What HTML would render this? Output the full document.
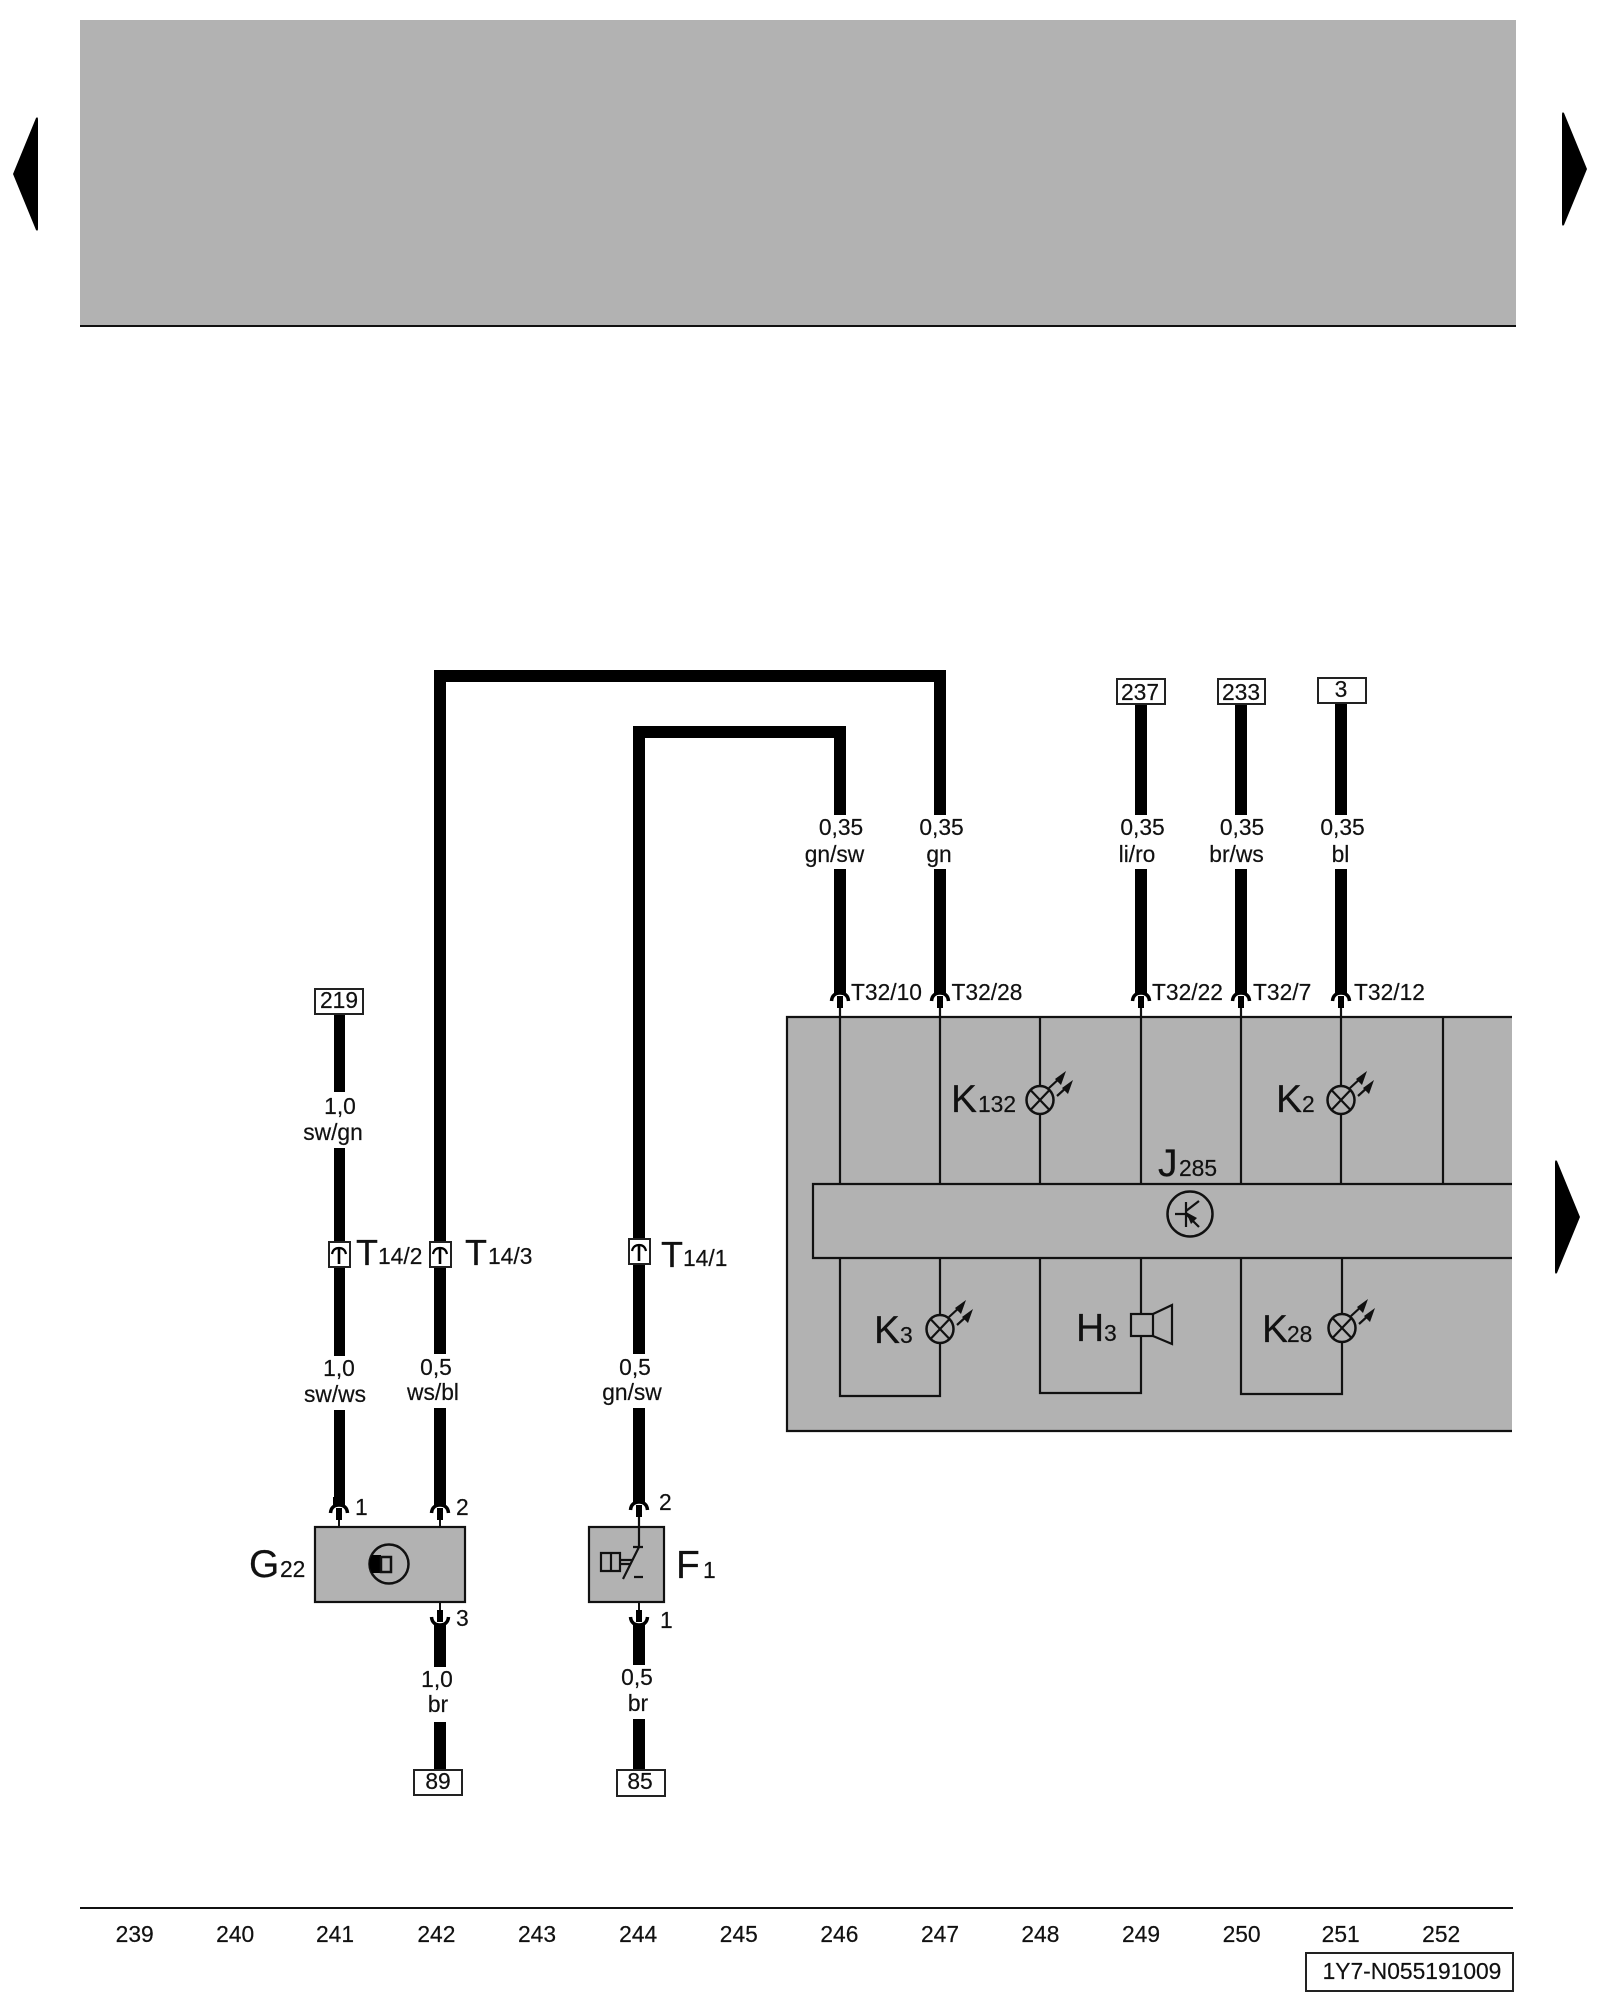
<!DOCTYPE html>
<html><head><meta charset="utf-8"><style>
html,body{margin:0;padding:0;background:#fff}
svg{display:block}
text{font-family:"Liberation Sans",Arial,sans-serif;fill:#111;font-size:22.8px;stroke:#111;stroke-width:.2}
.m{text-anchor:middle}
.b{font-size:39px}
.l{stroke:#111;stroke-width:2.2;fill:none}
.w{fill:#000}
</style></head><body>
<svg width="1600" height="2000" viewBox="0 0 1600 2000" xmlns="http://www.w3.org/2000/svg">
<defs>
<g id="up"><path d="M-8.5 8C-8 2-4 0 0 0 4 0 8 2 8.5 8" fill="none" stroke="#000" stroke-width="3.5"/><rect x="-6" y="-8" width="12" height="8" fill="#000"/><rect x="-3" y="3" width="6" height="12" fill="#000"/><path d="M0 15V23" stroke="#111" stroke-width="2"/></g>
<g id="dn"><path d="M-8.5-8C-8-2-4 0 0 0 4 0 8-2 8.5-8" fill="none" stroke="#000" stroke-width="3.5"/><rect x="-6" y="0" width="12" height="8" fill="#000"/><rect x="-3" y="-15" width="6" height="12" fill="#000"/><path d="M0-15V-23" stroke="#111" stroke-width="2"/></g>
<g id="lamp"><ellipse rx="13.5" ry="14" fill="#b2b2b2" stroke="#111" stroke-width="2.5"/><path d="M-9.5-10 9.5 10M9.5-10-9.5 10" stroke="#111" stroke-width="2.2"/><path d="M9-12 21-23M17-4 28-14" stroke="#111" stroke-width="2.2"/><path d="M26-29 15-21 21-15ZM33-20 22-12 28-6Z" fill="#111"/></g>
<g id="conn"><rect x="-10" y="0" width="21" height="25" fill="#fff" stroke="#222" stroke-width="2"/><path d="M-7 12C-6 7-3 6 0 6 3 6 6 7 7 12" fill="none" stroke="#000" stroke-width="2.2"/><path d="M0 7V22" stroke="#000" stroke-width="2.6"/></g>
</defs>

<rect x="80" y="20" width="1436" height="306" fill="#b2b2b2"/>
<rect x="80" y="325" width="1436" height="2" fill="#111"/>
<path d="M13 174 36 118Q38 116 38 120V228Q38 232 36 230Z" fill="#000"/>
<path d="M1587 169 1564 113Q1562 111 1562 115V223Q1562 227 1564 225Z" fill="#000"/>
<path d="M1580 1217 1557 1161Q1555 1159 1555 1163V1271Q1555 1275 1557 1273Z" fill="#000"/>

<!-- control unit -->
<rect x="787" y="1017" width="725" height="414" fill="#b2b2b2"/>
<path class="l" d="M1512 1017H787V1431H1512"/>
<path class="l" d="M840 1005V1183M940 1005V1183M1040 1017V1183M1141 1005V1183M1241 1005V1183M1341 1005V1183M1443 1017V1183"/>
<path class="l" d="M1512 1184H813V1258H1512"/>
<path class="l" d="M840 1258V1396H940V1258M1040 1258V1393H1141V1258M1241 1258V1394H1342V1258"/>

<!-- wires -->
<path d="M440 1354V676H940V815" fill="none" stroke="#000" stroke-width="12"/>
<path d="M639 1354V732H840V815" fill="none" stroke="#000" stroke-width="12"/>
<rect class="w" x="334" y="1014" width="11" height="78"/>
<rect class="w" x="334" y="1148" width="11" height="94"/>
<rect class="w" x="334" y="1267" width="11" height="89"/>
<rect class="w" x="334" y="1410" width="11" height="95"/>
<rect class="w" x="434" y="1408" width="12" height="97"/>
<rect class="w" x="633" y="1408" width="12" height="93"/>
<rect class="w" x="434" y="1624" width="12" height="43"/>
<rect class="w" x="434" y="1722" width="12" height="48"/>
<rect class="w" x="633" y="1624" width="12" height="41"/>
<rect class="w" x="633" y="1719" width="12" height="51"/>
<rect class="w" x="834" y="869" width="12" height="124"/>
<rect class="w" x="934" y="869" width="12" height="124"/>
<rect class="w" x="1135" y="704" width="12" height="111"/>
<rect class="w" x="1135" y="869" width="12" height="124"/>
<rect class="w" x="1235" y="704" width="12" height="111"/>
<rect class="w" x="1235" y="869" width="12" height="124"/>
<rect class="w" x="1335" y="703" width="12" height="112"/>
<rect class="w" x="1335" y="869" width="12" height="124"/>

<use href="#up" x="840" y="993"/><use href="#up" x="940" y="993"/><use href="#up" x="1141" y="993"/><use href="#up" x="1241" y="993"/><use href="#up" x="1341" y="993"/>
<use href="#up" x="339" y="1505"/><use href="#up" x="440" y="1505"/><use href="#up" x="639" y="1502"/>
<use href="#dn" x="440" y="1625"/><use href="#dn" x="639" y="1625"/>
<use href="#conn" x="339" y="1242"/><use href="#conn" x="440" y="1242"/><use href="#conn" x="639" y="1239"/>

<!-- terminal boxes -->
<g fill="#fff" stroke="#222" stroke-width="2">
<rect x="315" y="989" width="48" height="25"/>
<rect x="1117" y="679" width="48" height="25"/>
<rect x="1218" y="679" width="47" height="25"/>
<rect x="1318" y="678" width="48" height="25"/>
<rect x="414" y="1770" width="48" height="25"/>
<rect x="617" y="1770" width="48" height="26"/>
<rect x="1306" y="1953" width="207" height="38"/>
</g>
<text class="m" x="339" y="1008">219</text>
<text class="m" x="1140" y="700">237</text>
<text class="m" x="1241" y="700">233</text>
<text class="m" x="1341" y="697">3</text>
<text class="m" x="438" y="1789">89</text>
<text class="m" x="640" y="1789">85</text>

<!-- wire labels -->
<text class="m" x="340" y="1114">1,0</text><text class="m" x="333" y="1140">sw/gn</text>
<text class="m" x="339" y="1376">1,0</text><text class="m" x="335" y="1402">sw/ws</text>
<text class="m" x="436" y="1375">0,5</text><text class="m" x="433" y="1400">ws/bl</text>
<text class="m" x="635" y="1375">0,5</text><text class="m" x="632" y="1400">gn/sw</text>
<text class="m" x="437" y="1687">1,0</text><text class="m" x="438" y="1712">br</text>
<text class="m" x="637" y="1685">0,5</text><text class="m" x="638" y="1711">br</text>
<text class="m" x="841" y="835">0,35</text><text class="m" x="834.5" y="862">gn/sw</text>
<text class="m" x="941.5" y="835">0,35</text><text class="m" x="939" y="862">gn</text>
<text class="m" x="1142.5" y="835">0,35</text><text class="m" x="1137" y="862">li/ro</text>
<text class="m" x="1242" y="835">0,35</text><text class="m" x="1236.5" y="862">br/ws</text>
<text class="m" x="1342.5" y="835">0,35</text><text class="m" x="1340.5" y="862">bl</text>

<text x="851" y="1000">T32/10</text>
<text x="951.5" y="1000">T32/28</text>
<text x="1152" y="1000">T32/22</text>
<text x="1253" y="1000">T32/7</text>
<text x="1354" y="1000">T32/12</text>

<text x="356" y="1265" class="b" style="font-size:36px">T</text><text x="378" y="1264">14/2</text>
<text x="465" y="1265" class="b" style="font-size:36px">T</text><text x="488" y="1264">14/3</text>
<text x="661" y="1267" class="b" style="font-size:36px">T</text><text x="683" y="1266">14/1</text>

<text x="355" y="1515">1</text><text x="456" y="1515">2</text><text x="659" y="1510">2</text>
<text x="456" y="1626">3</text><text x="660" y="1628">1</text>

<!-- G22 -->
<rect x="315" y="1527" width="150" height="75" fill="#b2b2b2" stroke="#111" stroke-width="2.2"/>
<circle cx="389" cy="1564" r="19.5" fill="none" stroke="#111" stroke-width="2.5"/>
<path d="M381 1555H372Q367 1564 372 1573H381Z" fill="#000"/>
<rect x="381" y="1557" width="10" height="15" fill="#b2b2b2" stroke="#111" stroke-width="2.5"/>
<text class="b" x="249" y="1577">G</text><text x="280" y="1577">22</text>

<!-- F1 -->
<rect x="589" y="1527" width="75" height="75" fill="#b2b2b2" stroke="#111" stroke-width="2.2"/>
<path class="l" d="M639 1517V1547M633 1547H643M639 1547 623 1579M634 1577H643M601 1553H620V1571H601ZM611 1553V1571M620 1560H632M620 1564H630"/>
<text class="b" x="676" y="1578">F</text><text x="703" y="1578">1</text>

<!-- indicators -->
<use href="#lamp" x="1040" y="1100"/><use href="#lamp" x="1341" y="1100"/><use href="#lamp" x="940" y="1329"/><use href="#lamp" x="1342" y="1328"/>
<text class="b" x="951" y="1112">K</text><text x="978" y="1112">132</text>
<text class="b" x="1276" y="1112">K</text><text x="1302" y="1112">2</text>
<text class="b" x="874" y="1343">K</text><text x="900" y="1343">3</text>
<text class="b" x="1076" y="1341">H</text><text x="1104" y="1341">3</text>
<text class="b" x="1262" y="1342">K</text><text x="1287" y="1342">28</text>

<!-- speaker -->
<rect x="1131" y="1314" width="22" height="22" fill="#b2b2b2" stroke="#111" stroke-width="2.2"/>
<path class="l" d="M1153 1314 1172 1305V1344L1153 1336"/>

<!-- J285 -->
<text class="b" x="1158" y="1176">J</text><text x="1179" y="1176">285</text>
<circle cx="1190" cy="1214" r="22.5" fill="none" stroke="#111" stroke-width="2.5"/>
<path class="l" d="M1186 1202V1227M1175 1214H1186M1186 1211 1199 1201M1186 1214 1199 1227"/>
<path d="M1186 1212 1197 1218 1191 1224Z" fill="#111"/>

<!-- footer -->
<rect x="80" y="1907" width="1433" height="2" fill="#111"/>
<text class="m" x="134.7" y="1942">239</text><text class="m" x="235.2" y="1942">240</text><text class="m" x="335" y="1942">241</text><text class="m" x="436.4" y="1942">242</text><text class="m" x="537" y="1942">243</text><text class="m" x="638.2" y="1942">244</text><text class="m" x="738.8" y="1942">245</text><text class="m" x="839.4" y="1942">246</text><text class="m" x="940" y="1942">247</text><text class="m" x="1040.4" y="1942">248</text><text class="m" x="1141" y="1942">249</text><text class="m" x="1241.6" y="1942">250</text><text class="m" x="1340.7" y="1942">251</text><text class="m" x="1441.2" y="1942">252</text>
<text class="m" x="1412" y="1979">1Y7-N055191009</text>
</svg>
</body></html>
